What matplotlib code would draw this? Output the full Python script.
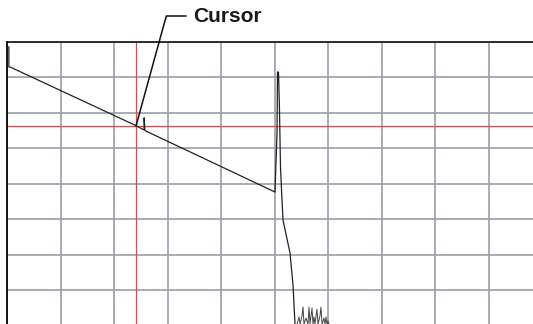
import matplotlib.pyplot as plt
from matplotlib.ticker import MultipleLocator

# OTDR trace, in screen divisions (x: distance div, y: level div)
trace_x = [0.035, 0.035, 0.060, 2.411, 2.542, 2.561, 2.563, 2.579, 5.009,
           5.047, 5.056, 5.075, 5.093, 5.112, 5.140, 5.159, 5.290, 5.346, 5.383]
trace_y = [7.85, 7.28, 7.28, 5.63, 5.52, 5.52, 5.85, 5.49, 3.76,
           5.42, 7.14, 7.14, 6.07, 4.46, 3.54, 2.97, 2.04, 1.14, 0.04]

# noise floor after the fiber end
noise_x = [5.421, 5.458, 5.477, 5.514, 5.533, 5.551, 5.589, 5.626, 5.645, 5.664,
           5.682, 5.701, 5.720, 5.738, 5.757, 5.794, 5.813, 5.850, 5.869, 5.888,
           5.925, 5.944, 5.963, 5.981, 6.000, 6.019]
noise_y = [0.04, 0.24, 0.04, 0.27, 0.52, 0.04, 0.21, 0.04, 0.52, 0.04,
           0.27, 0.49, 0.04, 0.24, 0.04, 0.46, 0.04, 0.27, 0.52, 0.04,
           0.21, 0.04, 0.24, 0.04, 0.13, 0.04]

cursor_x = 2.411
cursor_y = 5.62

fig = plt.figure(figsize=(5.33, 3.24), dpi=100)
ax = fig.add_axes([7 / 533, -1.5 / 324, 535 / 533, 284 / 324])
ax.set_xlim(0, 10)
ax.set_ylim(0, 8)

ax.xaxis.set_major_locator(MultipleLocator(1))
ax.yaxis.set_major_locator(MultipleLocator(1))
ax.grid(True, color="#98a0a6", lw=1.2)
ax.set_axisbelow(True)
ax.tick_params(length=0, labelbottom=False, labelleft=False)

for side in ["right", "bottom"]:
    ax.spines[side].set_visible(False)
ax.spines["left"].set_linewidth(1.4)
ax.spines["top"].set_linewidth(1.2)
ax.spines["left"].set_color("#111111")
ax.spines["top"].set_color("#111111")

# cursor lines
ax.axvline(cursor_x, color="#c85050", lw=0.9, zorder=2)
ax.axhline(cursor_y, color="#c85050", lw=0.9, zorder=2)

ax.plot(trace_x, trace_y, color="#222222", lw=0.9, zorder=3)
ax.plot(noise_x, noise_y, color="#444444", lw=0.7, zorder=3)

ax.annotate("Cursor", xy=(cursor_x, cursor_y), xycoords="data",
            xytext=(193, 308), textcoords="figure pixels",
            ha="left", va="center", fontsize=15, fontweight="bold",
            family="Liberation Sans", color="#1a1a1a",
            arrowprops=dict(arrowstyle="-", color="#111111", lw=1.1,
                            relpos=(0, 0.5), shrinkA=3, shrinkB=0,
                            connectionstyle="angle,angleA=0,angleB=74.6,rad=0"),
            annotation_clip=False)

fig.savefig("out.png", dpi=100)
